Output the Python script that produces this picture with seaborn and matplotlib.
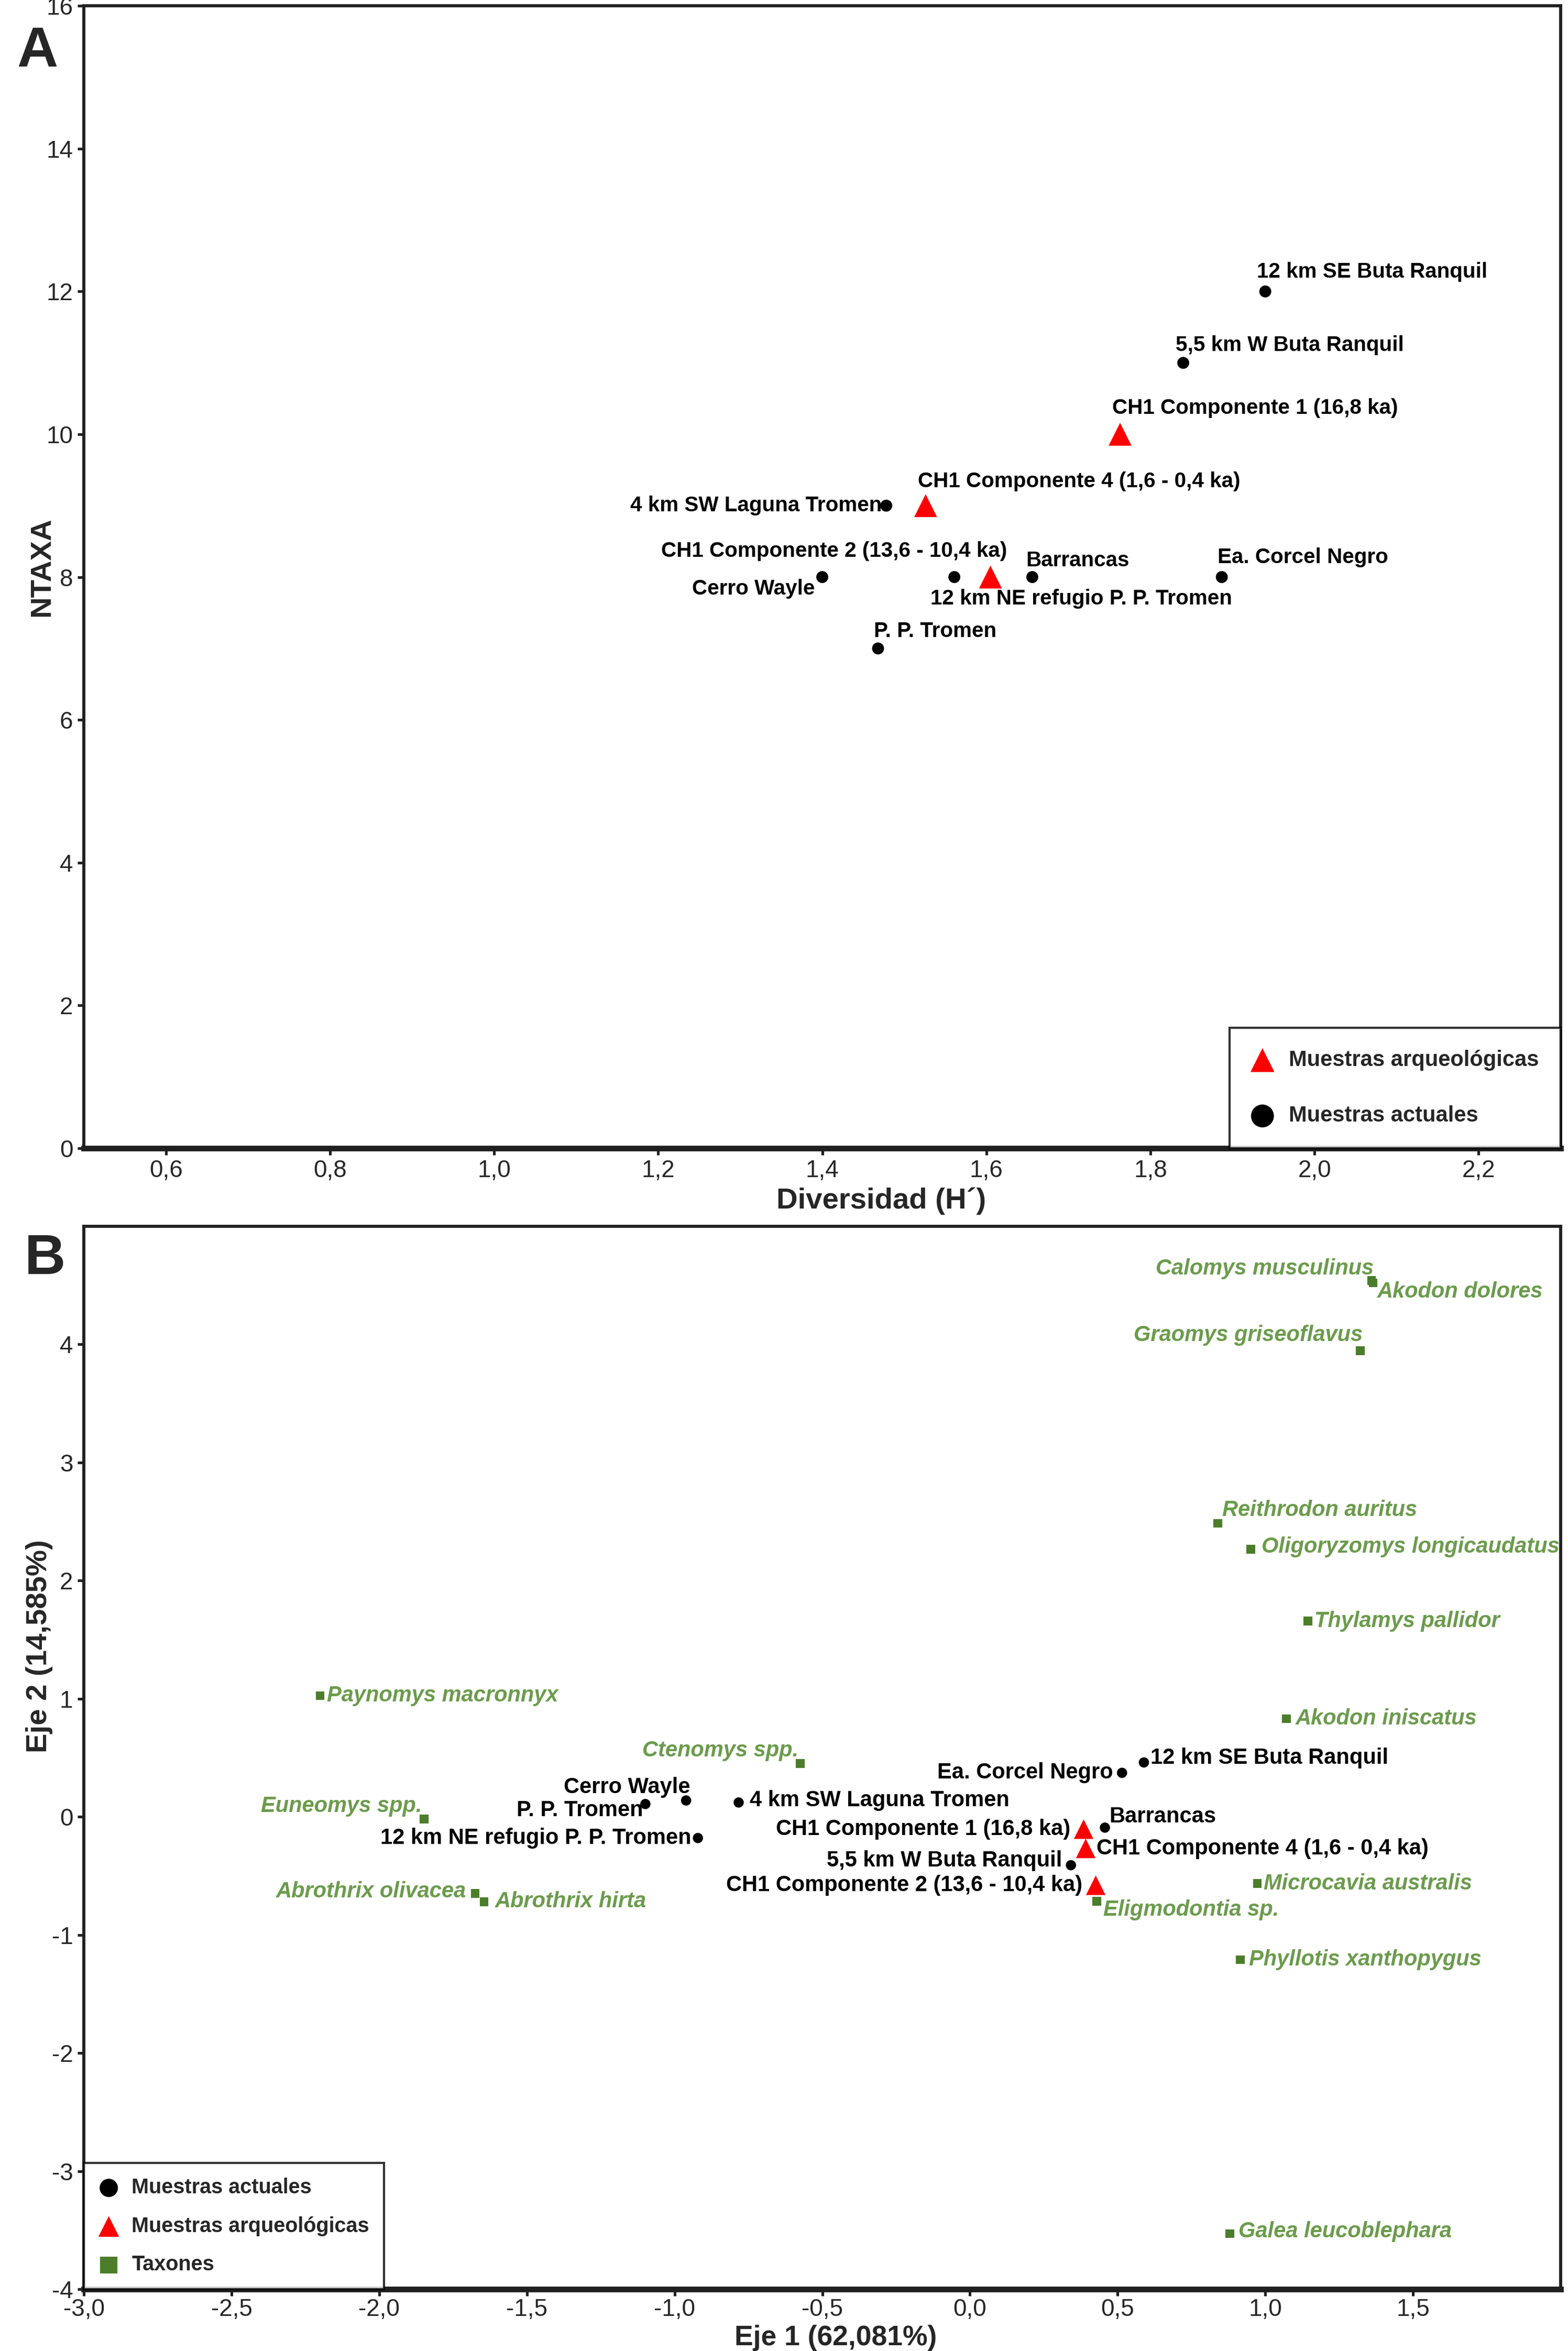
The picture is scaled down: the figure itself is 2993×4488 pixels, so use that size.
import numpy as np
import pandas as pd
import matplotlib
matplotlib.use("Agg")
import matplotlib.pyplot as plt
import seaborn as sns
from matplotlib.ticker import FuncFormatter, FixedLocator

# --- Panel A data: diversity vs number of taxa ---
a_names = ["12 km SE Buta Ranquil", "5,5 km W Buta Ranquil", "CH1 Componente 1 (16,8 ka)",
           "CH1 Componente 4 (1,6 - 0,4 ka)", "4 km SW Laguna Tromen", "CH1 Componente 2 (13,6 - 10,4 ka)",
           "Barrancas", "Ea. Corcel Negro", "Cerro Wayle", "12 km NE refugio P. P. Tromen", "P. P. Tromen"]
a_diversity = [1.94, 1.84, 1.763, 1.526, 1.478, 1.605, 1.656, 1.887, 1.40, 1.561, 1.468]
a_ntaxa = [12, 11, 10, 9, 9, 8, 8, 8, 8, 8, 7]
a_group = ["act", "act", "arq", "arq", "act", "arq", "act", "act", "act", "act", "act"]

# --- Panel B data: ordination (Eje 1 / Eje 2) ---
b_names = ["12 km SE Buta Ranquil", "Ea. Corcel Negro", "4 km SW Laguna Tromen", "Cerro Wayle",
           "P. P. Tromen", "12 km NE refugio P. P. Tromen", "CH1 Componente 1 (16,8 ka)", "Barrancas",
           "CH1 Componente 4 (1,6 - 0,4 ka)", "5,5 km W Buta Ranquil", "CH1 Componente 2 (13,6 - 10,4 ka)"]
b_eje1 = [0.589, 0.515, -0.783, -0.961, -1.099, -0.921, 0.385, 0.457, 0.392, 0.342, 0.426]
b_eje2 = [0.46, 0.372, 0.121, 0.138, 0.108, -0.18, -0.105, -0.092, -0.268, -0.41, -0.58]
b_group = ["act", "act", "act", "act", "act", "act", "arq", "act", "arq", "act", "arq"]

taxa = ["Calomys musculinus", "Akodon dolores", "Graomys griseoflavus", "Reithrodon auritus",
        "Oligoryzomys longicaudatus", "Thylamys pallidor", "Akodon iniscatus", "Paynomys macronnyx",
        "Ctenomys spp.", "Euneomys spp.", "Abrothrix olivacea", "Abrothrix hirta",
        "Microcavia australis", "Eligmodontia sp.", "Phyllotis xanthopygus", "Galea leucoblephara"]
taxa_eje1 = [1.36, 1.365, 1.322, 0.839, 0.951, 1.144, 1.072, -2.2, -0.574, -1.848, -1.675, -1.645,
             0.973, 0.43, 0.916, 0.88]
taxa_eje2 = [4.54, 4.52, 3.947, 2.485, 2.266, 1.657, 0.83, 1.025, 0.45, -0.02, -0.65, -0.72,
             -0.565, -0.715, -1.21, -3.53]

# label placement: (dx, dy in points, horizontal alignment)
a_lab = [(-4, 9, "left"), (-3.5, 8, "left"), (-3.5, 12, "left"), (-3.5, 11, "left"), (-2, 0, "right"),
         (7.5, 12, "right"), (-3, 7.5, "left"), (-2, 9, "left"), (-3.5, -5.5, "right"),
         (-11, -10, "left"), (-2, 8, "left")]
b_lab = [(3, 2, "left"), (-4, 0, "right"), (5, 1, "left"), (2, 6, "right"), (-1, -3, "right"),
         (-3, 0, "right"), (-6, 0, "right"), (2, 5, "left"), (5, 0, "left"), (-4, 2, "right"),
         (-6, 0, "right")]
taxa_lab = [(1, 5.5, "right"), (2, -4, "left"), (1, 7, "right"), (2, 6, "left"), (5, 1, "left"),
            (3, 0, "left"), (4, 0, "left"), (3, 0, "left"), (-1, 6, "right"), (-1, 6, "right"),
            (-4, 1, "right"), (5, 0, "left"), (3, 0, "left"), (3, -4, "left"), (4, 0, "left"),
            (4, 1, "left")]

RED = "#ff0000"
TAXA_MARK = "#4b7d2b"
TAXA_TEXT = "#6b9b4c"

sns.set_theme(style="white")
plt.rcParams["font.family"] = ["Liberation Sans", "DejaVu Sans"]
plt.rcParams["axes.unicode_minus"] = False

comma = FuncFormatter(lambda v, p: f"{v:.1f}".replace(".", ","))
intfmt = FuncFormatter(lambda v, p: f"{int(round(v))}")


def style_axes(ax):
    for side in ["left", "top", "right"]:
        ax.spines[side].set_color("#202020")
        ax.spines[side].set_linewidth(1.4)
    ax.spines["bottom"].set_color("#202020")
    ax.spines["bottom"].set_linewidth(2.6)
    ax.tick_params(axis="both", direction="out", length=3, width=1.2, color="#202020",
                   labelsize=11, pad=2, left=True, bottom=True)


def annotate_all(ax, xs, ys, names, offsets, color="black", italic=False, size=10):
    for x, y, n, (dx, dy, ha) in zip(xs, ys, names, offsets):
        ax.annotate(n, (x, y), xytext=(dx, dy), textcoords="offset points", ha=ha, va="center",
                    fontsize=size, fontweight="bold", color=color,
                    fontstyle="italic" if italic else "normal")


def resize_handles(leg, sizes):
    for h, s in zip(leg.legend_handles, sizes):
        h.set_sizes([s])


fig = plt.figure(figsize=(2993 / 300, 4488 / 300), dpi=300)

# ---------------- Panel A ----------------
axA = fig.add_axes([0.0535, 0.5116, 0.9418, 0.4859])
dfa = pd.DataFrame({"div": a_diversity, "ntaxa": a_ntaxa, "grupo": a_group})
sns.scatterplot(data=dfa[dfa.grupo == "arq"], x="div", y="ntaxa", marker="^", s=110, color=RED,
                edgecolor="none", ax=axA, label="Muestras arqueológicas", zorder=3)
sns.scatterplot(data=dfa[dfa.grupo == "act"], x="div", y="ntaxa", marker="o", s=30, color="black",
                edgecolor="none", ax=axA, label="Muestras actuales", zorder=3)
annotate_all(axA, a_diversity, a_ntaxa, a_names, a_lab, size=9.7)
axA.set_xlim(0.5, 2.3)
axA.set_ylim(0, 16)
axA.xaxis.set_major_locator(FixedLocator(np.arange(0.6, 2.21, 0.2)))
axA.yaxis.set_major_locator(FixedLocator(np.arange(0, 17, 2)))
axA.xaxis.set_major_formatter(comma)
axA.yaxis.set_major_formatter(intfmt)
style_axes(axA)
axA.set_xlabel("Diversidad (H´)", fontsize=13.5, fontweight="bold")
axA.set_ylabel("NTAXA", fontsize=13.5, fontweight="bold")
axA.xaxis.set_label_coords(0.540, -0.034)
axA.yaxis.set_label_coords(-0.019, 0.509)
legA = axA.legend(loc="lower right", frameon=True, fancybox=False, edgecolor="black",
                  borderaxespad=0, prop={"weight": "bold", "size": 10}, markerscale=1.0,
                  labelspacing=1.6, borderpad=1.0, handletextpad=0.7, handlelength=1.0)
resize_handles(legA, [120, 110])
legA.get_frame().set_linewidth(1.0)
fig.text(0.024, 0.978, "A", fontsize=26, fontweight="bold", ha="center", va="center")

# ---------------- Panel B ----------------
axB = fig.add_axes([0.0535, 0.0263, 0.9418, 0.4521])
dfb = pd.DataFrame({"eje1": b_eje1, "eje2": b_eje2, "grupo": b_group})
dft = pd.DataFrame({"eje1": taxa_eje1, "eje2": taxa_eje2})
sns.scatterplot(data=dfb[dfb.grupo == "act"], x="eje1", y="eje2", marker="o", s=22, color="black",
                edgecolor="none", ax=axB, label="Muestras actuales", zorder=3)
sns.scatterplot(data=dfb[dfb.grupo == "arq"], x="eje1", y="eje2", marker="^", s=80, color=RED,
                edgecolor="none", ax=axB, label="Muestras arqueológicas", zorder=3)
sns.scatterplot(data=dft, x="eje1", y="eje2", marker="s", s=16, color=TAXA_MARK,
                edgecolor="none", ax=axB, label="Taxones", zorder=3)
annotate_all(axB, b_eje1, b_eje2, b_names, b_lab, size=10)
annotate_all(axB, taxa_eje1, taxa_eje2, taxa, taxa_lab, color=TAXA_TEXT, italic=True, size=10)
axB.set_xlim(-3, 2)
axB.set_ylim(-4, 5)
axB.xaxis.set_major_locator(FixedLocator(np.arange(-3, 1.51, 0.5)))
axB.yaxis.set_major_locator(FixedLocator(np.arange(-4, 5, 1)))
axB.xaxis.set_major_formatter(comma)
axB.yaxis.set_major_formatter(intfmt)
style_axes(axB)
axB.tick_params(axis="x", pad=1)
axB.set_xlabel("Eje 1 (62,081%)", fontsize=12.8, fontweight="bold")
axB.set_ylabel("Eje 2 (14,585%)", fontsize=13.5, fontweight="bold")
axB.xaxis.set_label_coords(0.509, -0.0335)
axB.yaxis.set_label_coords(-0.021, 0.605)
legB = axB.legend(loc="lower left", frameon=True, fancybox=False, edgecolor="black",
                  borderaxespad=0, prop={"weight": "bold", "size": 9.5}, markerscale=1.0,
                  labelspacing=0.9, borderpad=0.7, handletextpad=0.6, handlelength=1.0)
resize_handles(legB, [70, 90, 60])
legB.get_frame().set_linewidth(1.0)
fig.text(0.0287, 0.4644, "B", fontsize=26, fontweight="bold", ha="center", va="center")

fig.savefig("out.png", dpi=300, facecolor="white")
